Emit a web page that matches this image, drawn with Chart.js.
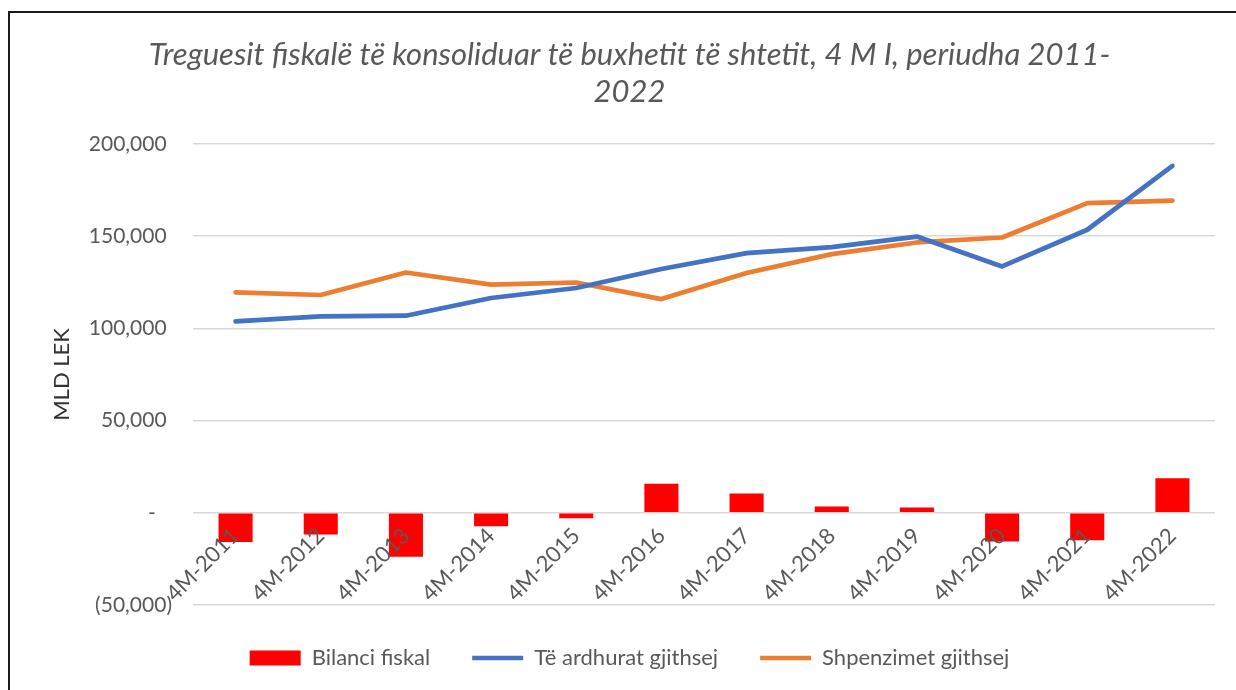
<!DOCTYPE html>
<html>
<head>
<meta charset="utf-8">
<script src="https://cdn.jsdelivr.net/npm/chart.js@4.4.1/dist/chart.umd.min.js"></script>
<style>
  html, body { margin: 0; padding: 0; background: #fff; }
  #wrap { position: relative; width: 1236px; height: 690px; overflow: hidden; }
  #frame { position: absolute; left: 8px; top: 11px; width: 1300px; height: 720px;
           border: 2px solid #1a1a1a; box-sizing: border-box; pointer-events: none; }
  canvas { position: absolute; left: 0; top: 0; }
</style>
</head>
<body>
<div id="wrap">
  <canvas id="chart" width="1236" height="690"></canvas>
  <div id="frame"></div>
</div>
<script>
// Data (MLD LEK)
var categories = ['4M-2011', '4M-2012', '4M-2013', '4M-2014', '4M-2015', '4M-2016',
                  '4M-2017', '4M-2018', '4M-2019', '4M-2020', '4M-2021', '4M-2022'];
var bilanciFiskal = [-15900, -11750, -23800, -7250, -2900, 15700, 10450, 3400, 2870, -15550, -14840, 18740];
var teArdhurat    = [103800, 106500, 106900, 116500, 121900, 132200, 140800, 144100, 149800, 133600, 153500, 188100];
var shpenzimet    = [119500, 118100, 130300, 123700, 124900, 115900, 130000, 140300, 146600, 149300, 167900, 169300];
var yTicks = [-50000, 0, 50000, 100000, 150000, 200000];

var FONT = 'Lato, "Open Sans", sans-serif';
var GREY = '#595959';

// Excel accounting style: 0 -> "-", negatives in brackets
function fmtLek(v) {
    if (v === 0) return '-   ';
    var s = Math.abs(v).toLocaleString('en-US');
    return v < 0 ? '(' + s + ')' : s + ' ';
}

new Chart(document.getElementById('chart'), {
    type: 'bar',
    data: {
        labels: categories,
        datasets: [{
            label: 'Bilanci fiskal',
            data: bilanciFiskal,
            backgroundColor: '#ff0000',
            borderWidth: 0,
            barPercentage: 0.4,
            categoryPercentage: 1,
            pointStyle: 'rect',
        }, {
            type: 'line',
            label: 'Të ardhurat gjithsej',
            data: teArdhurat,
            borderColor: '#4472c4',
            backgroundColor: '#4472c4',
            borderWidth: 4.7,
            borderCapStyle: 'round',
            borderJoinStyle: 'round',
            pointRadius: 0,
            pointStyle: 'line',
            tension: 0,
        }, {
            type: 'line',
            label: 'Shpenzimet gjithsej',
            data: shpenzimet,
            borderColor: '#ed7d31',
            backgroundColor: '#ed7d31',
            borderWidth: 4.7,
            borderCapStyle: 'round',
            borderJoinStyle: 'round',
            pointRadius: 0,
            pointStyle: 'line',
            tension: 0,
        }],
    },
    options: {
        responsive: false,
        animation: false,
        layout: { padding: { left: 44, right: 21, top: 0, bottom: 11 } },
        plugins: {
            tooltip: { enabled: false },
            title: {
                display: true,
                text: ['Treguesit fiskalë të konsoliduar të buxhetit të shtetit, 4 M I, periudha 2011-', '2022'],
                color: GREY,
                font: { family: FONT, size: 31, style: 'italic', weight: 'normal', lineHeight: 37 / 31 },
                padding: { top: 36.5, bottom: 33.5 },
            },
            legend: {
                position: 'bottom',
                labels: {
                    usePointStyle: true,
                    pointStyleWidth: 51,
                    boxHeight: 15,
                    padding: 42,
                    color: GREY,
                    font: { family: FONT, size: 22 },
                },
            },
        },
        scales: {
            x: {
                position: { y: 0 },
                grid: { display: false, drawTicks: false },
                border: { display: false },
                ticks: {
                    z: 1,   // labels sit over the bars, as in the original
                    minRotation: 45,
                    maxRotation: 45,
                    autoSkip: false,
                    padding: 10,
                    color: GREY,
                    font: { family: FONT, size: 22 },
                },
            },
            y: {
                min: -50000,
                max: 200000,
                afterBuildTicks: function (scale) {
                    scale.ticks = yTicks.map(function (v) { return { value: v }; });
                },
                afterFit: function (scale) { scale.width = 149; },
                grid: { color: '#d9d9d9', lineWidth: 1.5, drawTicks: false },
                border: { display: false },
                ticks: {
                    padding: 21,
                    color: GREY,
                    font: { family: FONT, size: 21 },
                    callback: function (value) { return fmtLek(value); },
                },
                title: {
                    display: true,
                    text: 'MLD LEK',
                    color: '#333333',
                    font: { family: FONT, size: 22 },
                    padding: { top: 5, bottom: 0 },
                },
            },
        },
    },
});
</script>
</body>
</html>
